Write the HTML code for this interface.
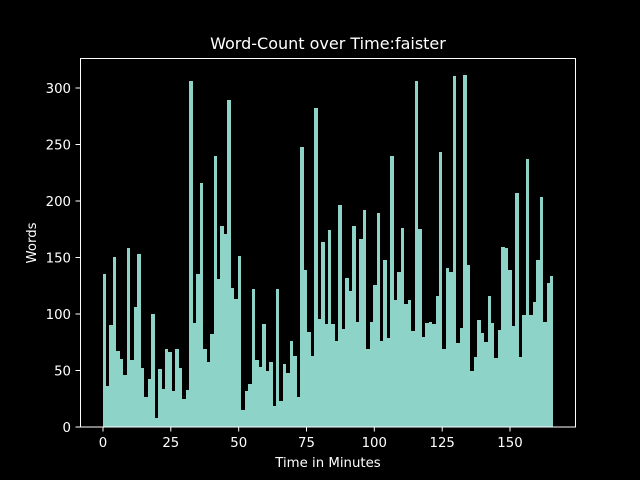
<!DOCTYPE html>
<html><head><meta charset="utf-8"><style>
html,body{margin:0;padding:0;background:#000;}
svg{display:block;}
text{font-family:"DejaVu Sans","Liberation Sans",sans-serif;fill:#fff;}
</style></head><body>
<svg width="640" height="480" viewBox="0 0 640 480" xmlns="http://www.w3.org/2000/svg">
<rect width="640" height="480" fill="#000"/>
<g fill="#8dd3c7">
<g transform="translate(100,70) scale(0.33333)">
<rect x="9" y="612" width="9" height="459"/><rect x="18" y="948" width="9" height="123"/><rect x="27" y="765" width="12" height="306"/><rect x="39" y="561" width="9" height="510"/><rect x="48" y="843" width="12" height="228"/><rect x="60" y="867" width="9" height="204"/><rect x="69" y="915" width="12" height="156"/><rect x="81" y="534" width="9" height="537"/><rect x="90" y="870" width="12" height="201"/><rect x="102" y="711" width="9" height="360"/><rect x="111" y="552" width="12" height="519"/><rect x="123" y="894" width="9" height="177"/><rect x="132" y="981" width="12" height="90"/><rect x="144" y="927" width="9" height="144"/><rect x="153" y="732" width="12" height="339"/><rect x="165" y="1044" width="9" height="27"/><rect x="174" y="897" width="12" height="174"/><rect x="186" y="957" width="9" height="114"/><rect x="195" y="837" width="9" height="234"/><rect x="204" y="846" width="12" height="225"/><rect x="216" y="963" width="9" height="108"/><rect x="225" y="837" width="12" height="234"/><rect x="237" y="894" width="9" height="177"/><rect x="246" y="987" width="12" height="84"/><rect x="258" y="960" width="9" height="111"/><rect x="267" y="33" width="12" height="1038"/><rect x="279" y="759" width="9" height="312"/><rect x="288" y="612" width="12" height="459"/><rect x="300" y="339" width="9" height="732"/><rect x="309" y="837" width="12" height="234"/><rect x="321" y="876" width="9" height="195"/><rect x="330" y="792" width="12" height="279"/><rect x="342" y="258" width="9" height="813"/>
</g>
<g transform="translate(215,70) scale(0.33333)">
<rect x="6" y="627" width="9" height="444"/><rect x="15" y="468" width="12" height="603"/><rect x="27" y="492" width="9" height="579"/><rect x="36" y="90" width="12" height="981"/><rect x="48" y="654" width="9" height="417"/><rect x="57" y="687" width="12" height="384"/><rect x="69" y="558" width="9" height="513"/><rect x="78" y="1020" width="12" height="51"/><rect x="90" y="963" width="9" height="108"/><rect x="99" y="942" width="12" height="129"/><rect x="111" y="657" width="9" height="414"/><rect x="120" y="870" width="12" height="201"/><rect x="132" y="891" width="9" height="180"/><rect x="141" y="762" width="12" height="309"/><rect x="153" y="903" width="9" height="168"/><rect x="162" y="876" width="12" height="195"/><rect x="174" y="1008" width="9" height="63"/><rect x="183" y="657" width="9" height="414"/><rect x="192" y="993" width="12" height="78"/><rect x="204" y="882" width="9" height="189"/><rect x="213" y="909" width="12" height="162"/><rect x="225" y="813" width="9" height="258"/><rect x="234" y="858" width="12" height="213"/><rect x="246" y="981" width="9" height="90"/><rect x="255" y="231" width="12" height="840"/><rect x="267" y="600" width="9" height="471"/><rect x="276" y="786" width="12" height="285"/><rect x="288" y="858" width="9" height="213"/><rect x="297" y="114" width="12" height="957"/><rect x="309" y="747" width="9" height="324"/><rect x="318" y="516" width="12" height="555"/><rect x="330" y="762" width="9" height="309"/><rect x="339" y="480" width="9" height="591"/>
</g>
<g transform="translate(330,70) scale(0.33333)">
<rect x="3" y="762" width="12" height="309"/><rect x="15" y="813" width="9" height="258"/><rect x="24" y="405" width="12" height="666"/><rect x="36" y="777" width="9" height="294"/><rect x="45" y="624" width="12" height="447"/><rect x="57" y="663" width="9" height="408"/><rect x="66" y="468" width="12" height="603"/><rect x="78" y="756" width="9" height="315"/><rect x="87" y="507" width="12" height="564"/><rect x="99" y="420" width="9" height="651"/><rect x="108" y="837" width="12" height="234"/><rect x="120" y="756" width="9" height="315"/><rect x="129" y="645" width="12" height="426"/><rect x="141" y="429" width="9" height="642"/><rect x="150" y="813" width="9" height="258"/><rect x="159" y="570" width="12" height="501"/><rect x="171" y="804" width="9" height="267"/><rect x="180" y="258" width="12" height="813"/><rect x="192" y="690" width="9" height="381"/><rect x="201" y="606" width="12" height="465"/><rect x="213" y="474" width="9" height="597"/><rect x="222" y="702" width="12" height="369"/><rect x="234" y="690" width="9" height="381"/><rect x="243" y="783" width="12" height="288"/><rect x="255" y="33" width="9" height="1038"/><rect x="264" y="477" width="12" height="594"/><rect x="276" y="801" width="9" height="270"/><rect x="285" y="759" width="12" height="312"/><rect x="297" y="756" width="9" height="315"/><rect x="306" y="762" width="12" height="309"/><rect x="318" y="678" width="9" height="393"/><rect x="327" y="246" width="9" height="825"/><rect x="336" y="837" width="12" height="234"/>
</g>
<g transform="translate(445,70) scale(0.33333)">
<rect x="3" y="594" width="9" height="477"/><rect x="12" y="606" width="12" height="465"/><rect x="24" y="18" width="9" height="1053"/><rect x="33" y="819" width="12" height="252"/><rect x="45" y="774" width="9" height="297"/><rect x="54" y="15" width="12" height="1056"/><rect x="66" y="585" width="9" height="486"/><rect x="75" y="903" width="12" height="168"/><rect x="87" y="861" width="9" height="210"/><rect x="96" y="750" width="12" height="321"/><rect x="108" y="789" width="9" height="282"/><rect x="117" y="816" width="12" height="255"/><rect x="129" y="678" width="9" height="393"/><rect x="138" y="759" width="9" height="312"/><rect x="147" y="864" width="12" height="207"/><rect x="159" y="780" width="9" height="291"/><rect x="168" y="531" width="12" height="540"/><rect x="180" y="534" width="9" height="537"/><rect x="189" y="600" width="12" height="471"/><rect x="201" y="768" width="9" height="303"/><rect x="210" y="369" width="12" height="702"/><rect x="222" y="861" width="9" height="210"/><rect x="231" y="735" width="12" height="336"/><rect x="243" y="267" width="9" height="804"/><rect x="252" y="735" width="12" height="336"/><rect x="264" y="696" width="9" height="375"/><rect x="273" y="570" width="12" height="501"/><rect x="285" y="381" width="9" height="690"/><rect x="294" y="756" width="12" height="315"/><rect x="306" y="639" width="9" height="432"/><rect x="315" y="618" width="9" height="453"/>
</g>
</g>
<rect x="80.5" y="58.5" width="495" height="368.5" fill="none" stroke="#fff" stroke-width="1"/>
<g stroke="#fff" stroke-width="1">
<line x1="103" y1="427" x2="103" y2="431.5"/><line x1="170.8" y1="427" x2="170.8" y2="431.5"/><line x1="238.7" y1="427" x2="238.7" y2="431.5"/><line x1="306.5" y1="427" x2="306.5" y2="431.5"/><line x1="374.3" y1="427" x2="374.3" y2="431.5"/><line x1="442.2" y1="427" x2="442.2" y2="431.5"/><line x1="510" y1="427" x2="510" y2="431.5"/>
<line x1="75.5" y1="427" x2="80" y2="427"/><line x1="75.5" y1="370.5" x2="80" y2="370.5"/><line x1="75.5" y1="314" x2="80" y2="314"/><line x1="75.5" y1="257.5" x2="80" y2="257.5"/><line x1="75.5" y1="201" x2="80" y2="201"/><line x1="75.5" y1="144.5" x2="80" y2="144.5"/><line x1="75.5" y1="88" x2="80" y2="88"/>
</g>
<g font-size="13.3" text-anchor="middle">
<text x="103" y="447">0</text><text x="170.8" y="447">25</text><text x="238.7" y="447">50</text><text x="306.5" y="447">75</text><text x="374.3" y="447">100</text><text x="442.2" y="447">125</text><text x="510" y="447">150</text>
</g>
<g font-size="13.3" text-anchor="end">
<text x="71" y="432">0</text><text x="71" y="375.5">50</text><text x="71" y="319">100</text><text x="71" y="262.5">150</text><text x="71" y="206">200</text><text x="71" y="149.5">250</text><text x="71" y="93">300</text>
</g>
<text x="328" y="467" font-size="13.3" text-anchor="middle">Time in Minutes</text>
<text transform="translate(36,243) rotate(-90)" font-size="13.3" text-anchor="middle">Words</text>
<text x="328" y="49" font-size="16" text-anchor="middle">Word-Count over Time:faister</text>
</svg>
</body></html>
